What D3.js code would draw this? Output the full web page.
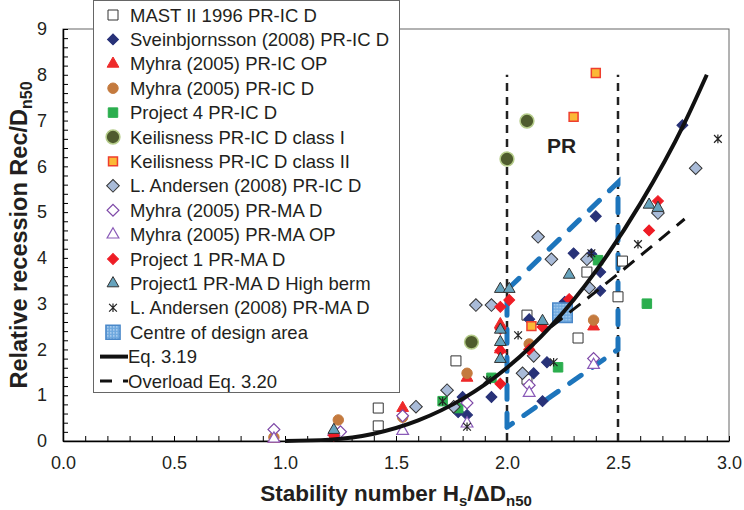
<!DOCTYPE html>
<html>
<head>
<meta charset="utf-8">
<script src="https://cdn.jsdelivr.net/npm/d3@7"></script>
<style>
  body { margin: 0; background: #fff; }
  text { font-family: "Liberation Sans", Arial, sans-serif; fill: #231f20; }
</style>
</head>
<body>
<div id="chart"></div>
<script>
// DATA
const mastX = [1.42, 1.42, 1.77, 2.09, 2.09, 2.32, 2.36, 2.52, 2.50];
const mastY = [0.72, 0.33, 1.75, 2.75, 1.35, 2.25, 3.69, 3.93, 3.15];

const sveinX = [1.80, 1.78, 1.82, 1.93, 2.10, 2.18, 2.12, 2.16, 2.79, 2.40, 2.30, 2.38, 2.42, 2.42, 2.26];
const sveinY = [0.96, 0.63, 0.57, 0.96, 2.66, 1.72, 1.48, 0.87, 6.90, 4.91, 4.10, 4.08, 3.69, 3.28, 3.04];

const myhraOpX = [0.95, 1.22, 1.53, 1.82, 1.97, 1.97, 2.39];
const myhraOpY = [0.05, 0.20, 0.72, 1.38, 2.55, 2.00, 2.50];

const myhraDX = [0.95, 1.24, 1.53, 1.82, 2.10, 2.39];
const myhraDY = [0.08, 0.46, 0.52, 1.48, 2.12, 2.64];

const proj4X = [1.71, 1.78, 1.93, 2.23, 2.41, 2.63];
const proj4Y = [0.87, 0.72, 1.38, 1.61, 3.95, 3.00];

const keil1X = [2.00, 2.09, 1.84];
const keil1Y = [6.16, 6.99, 2.16];

const keil2X = [2.30, 2.40, 2.11];
const keil2Y = [7.08, 8.04, 2.51];

const andIcX = [2.14, 2.20, 1.86, 1.93, 2.12, 2.07, 1.73, 1.59, 1.76, 2.85, 2.68, 2.36, 2.37];
const andIcY = [4.46, 3.97, 2.97, 2.97, 1.86, 1.48, 1.11, 0.75, 0.75, 5.96, 4.98, 3.97, 3.35];

const myhraMaDX = [0.95, 1.25, 1.53, 1.82, 2.10, 2.39];
const myhraMaDY = [0.25, 0.20, 0.55, 0.83, 1.22, 1.80];

const myhraMaOpX = [0.95, 1.22, 1.53, 1.82, 2.10, 2.39];
const myhraMaOpY = [0.05, 0.20, 0.22, 0.38, 1.05, 1.66];

const proj1X = [1.97, 2.01, 1.97, 1.97, 1.97, 2.10, 2.16, 2.68, 2.64, 2.28, 1.22];
const proj1Y = [2.93, 3.08, 2.45, 1.97, 1.25, 2.00, 2.49, 5.24, 4.60, 3.10, 0.12];

const highBermX = [1.97, 2.01, 1.97, 1.97, 1.97, 2.16, 2.28, 2.64, 2.68, 1.22];
const highBermY = [3.32, 3.32, 2.43, 2.16, 1.79, 2.62, 3.63, 5.16, 5.09, 0.24];

const andMaX = [2.05, 2.21, 1.71, 1.91, 1.82, 2.95, 2.59, 2.38];
const andMaY = [2.31, 1.72, 0.87, 1.33, 0.31, 6.60, 4.30, 4.10];

const centreX = [2.25];
const centreY = [2.80];

// Eq. 3.19 and overload Eq. 3.20
const eq319X = [1.0, 1.2, 1.4, 1.6, 1.8, 2.0, 2.2, 2.4, 2.6, 2.8, 2.9];
const eq319Y = [0.0, 0.03, 0.16, 0.45, 0.92, 1.6, 2.52, 3.71, 5.18, 6.95, 8.0];
const eq320X = [2.2, 2.5, 2.8];
const eq320Y = [2.5, 3.65, 4.85];

// PR design area (blue dashed) and the PR limits (black dashed)
const designX = [2.0, 2.0, 2.5, 2.5, 2.0];
const designY = [0.3, 3.3, 5.65, 2.0, 0.3];
const limitX = [2.0, 2.5];
const limitY = [0, 8];

const X_TICKS = [0.0, 0.5, 1.0, 1.5, 2.0, 2.5, 3.0];
const Y_TICKS = [0, 1, 2, 3, 4, 5, 6, 7, 8, 9];

const MARGIN = { top: 29, right: 15, bottom: 69, left: 63 };
const WIDTH = 744 - MARGIN.left - MARGIN.right;
const HEIGHT = 510 - MARGIN.top - MARGIN.bottom;

// custom asterisk symbol (x with a vertical bar)
const symbolStar = {
    draw(ctx, size) {
        const r = Math.sqrt(size) / 2;
        ctx.moveTo(-r, -r); ctx.lineTo(r, r);
        ctx.moveTo(-r, r); ctx.lineTo(r, -r);
        ctx.moveTo(0, -r * 1.1); ctx.lineTo(0, r * 1.1);
    }
};

const zip = (xs, ys) => xs.map((v, i) => ({ x: v, y: ys[i] }));

const SERIES = [
    { name: "MAST II 1996 PR-IC D", pts: zip(mastX, mastY), type: d3.symbolSquare, size: 100, fill: "#fff", stroke: "#333", sw: 1 },
    { name: "Sveinbjornsson (2008) PR-IC D", pts: zip(sveinX, sveinY), type: d3.symbolSquare, size: 60, rot: 45, fill: "#283278", stroke: "#283278", sw: 1 },
    { name: "Myhra (2005) PR-IC OP", pts: zip(myhraOpX, myhraOpY), type: d3.symbolTriangle, size: 60, fill: "#ee2a2a", stroke: "#ee2a2a", sw: 1 },
    { name: "Myhra (2005) PR-IC D", pts: zip(myhraDX, myhraDY), type: d3.symbolCircle, size: 85, fill: "#c47a3e", stroke: "#c47a3e", sw: 1 },
    { name: "Project 4 PR-IC D", pts: zip(proj4X, proj4Y), type: d3.symbolSquare, size: 90, fill: "#2bae4e", stroke: "#2bae4e", sw: 1 },
    { name: "Keilisness PR-IC D class I", pts: zip(keil1X, keil1Y), type: d3.symbolCircle, size: 150, fill: "#4f5c2e", stroke: "#b5cc8a", sw: 1.5 },
    { name: "Keilisness PR-IC D class II", pts: zip(keil2X, keil2Y), type: d3.symbolSquare, size: 80, fill: "#fbb936", stroke: "#ee3e2e", sw: 1.5 },
    { name: "L. Andersen (2008) PR-IC D", pts: zip(andIcX, andIcY), type: d3.symbolSquare, size: 80, rot: 45, fill: "#a9bbd8", stroke: "#333", sw: 1 },
    { name: "Myhra (2005) PR-MA D", pts: zip(myhraMaDX, myhraMaDY), type: d3.symbolSquare, size: 70, rot: 45, fill: "#fff", stroke: "#7f4aa8", sw: 1.2 },
    { name: "Myhra (2005) PR-MA OP", pts: zip(myhraMaOpX, myhraMaOpY), type: d3.symbolTriangle, size: 60, fill: "#fff", stroke: "#8a5ab8", sw: 1.2 },
    { name: "Project 1 PR-MA D", pts: zip(proj1X, proj1Y), type: d3.symbolSquare, size: 60, rot: 45, fill: "#ee1c25", stroke: "#ee1c25", sw: 1 },
    { name: "Project1 PR-MA D High berm", pts: zip(highBermX, highBermY), type: d3.symbolTriangle, size: 60, fill: "#66a3bd", stroke: "#333", sw: 1 },
    { name: "L. Andersen (2008) PR-MA D", pts: zip(andMaX, andMaY), type: symbolStar, size: 60, fill: "none", stroke: "#222", sw: 1.2 },
    { name: "Centre of design area", pts: zip(centreX, centreY), type: d3.symbolSquare, size: 380, fill: "url(#hatch)", stroke: "#4a88c9", sw: 1.5 }
];

const svg = d3.select("#chart")
    .append("svg")
        .attr("width", WIDTH + MARGIN.left + MARGIN.right)
        .attr("height", HEIGHT + MARGIN.top + MARGIN.bottom);

// pattern for the centre marker
const pat = svg.append("defs").append("pattern")
    .attr("id", "hatch")
    .attr("width", 3).attr("height", 3)
    .attr("patternUnits", "userSpaceOnUse");
pat.append("rect").attr("width", 3).attr("height", 3).attr("fill", "#6ea8de");
pat.append("rect").attr("width", 1.5).attr("height", 1.5).attr("fill", "#b3d3f2");

const g = svg.append("g")
    .attr("transform", `translate(${MARGIN.left}, ${MARGIN.top})`);

const x = d3.scaleLinear().domain([0, 3]).range([0, WIDTH]);
const y = d3.scaleLinear().domain([0, 9]).range([HEIGHT, 0]);

// FRAME
g.append("rect")
    .attr("width", WIDTH)
    .attr("height", HEIGHT)
    .attr("fill", "none")
    .attr("stroke", "#666")
    .attr("stroke-width", 1);

// AXES
const xAxis = g.append("g")
    .attr("transform", `translate(0, ${HEIGHT})`)
    .call(d3.axisBottom(x)
        .tickValues(d3.range(0, 31).map(i => i / 10))
        .tickSize(-5)
        .tickSizeOuter(0)
        .tickPadding(15)
        .tickFormat(d => X_TICKS.some(t => Math.abs(t - d) < 1e-6) ? d3.format(".1f")(d) : ""));
xAxis.selectAll("text").style("font-size", "18px").attr("font-family", null);
xAxis.select(".domain").attr("stroke", "#000").attr("stroke-width", 1.5);

const yAxis = g.append("g")
    .call(d3.axisLeft(y)
        .tickValues(d3.range(0, 46).map(i => i / 5))
        .tickSize(-5)
        .tickSizeOuter(0)
        .tickPadding(16)
        .tickFormat(d => Y_TICKS.some(t => Math.abs(t - d) < 1e-6) ? d3.format("d")(d) : ""));
yAxis.selectAll("text").style("font-size", "18px").attr("font-family", null);
yAxis.select(".domain").attr("stroke", "#000").attr("stroke-width", 1.5);

// AXIS TITLES
const xTitle = g.append("text")
    .attr("x", WIDTH / 2)
    .attr("y", HEIGHT + 60)
    .attr("text-anchor", "middle")
    .style("font-size", "22.5px")
    .style("font-weight", "bold");
xTitle.append("tspan").text("Stability number H");
xTitle.append("tspan").attr("dy", 5).style("font-size", "15px").text("s");
xTitle.append("tspan").attr("dy", -5).text("/\u0394D");
xTitle.append("tspan").attr("dy", 5).style("font-size", "15px").text("n50");

const yTitle = g.append("text")
    .attr("transform", `translate(${27 - MARGIN.left}, ${HEIGHT / 2}) rotate(-90)`)
    .attr("text-anchor", "middle")
    .style("font-size", "23.5px")
    .style("font-weight", "bold");
yTitle.append("tspan").text("Relative recession Rec/D");
yTitle.append("tspan").attr("dy", 5).style("font-size", "16px").text("n50");

// PR LIMITS
limitX.forEach(v => {
    g.append("line")
        .attr("x1", x(v)).attr("x2", x(v))
        .attr("y1", y(limitY[0])).attr("y2", y(limitY[1]))
        .attr("stroke", "#222")
        .attr("stroke-width", 2.5)
        .attr("stroke-dasharray", "8,6");
});

// DESIGN AREA
g.append("path")
    .datum(zip(designX, designY))
    .attr("d", d3.line().x(d => x(d.x)).y(d => y(d.y)))
    .attr("fill", "none")
    .attr("stroke", "#1d75bc")
    .attr("stroke-width", 5)
    .attr("stroke-linecap", "round")
    .attr("stroke-dasharray", "14,14");

g.append("text")
    .attr("x", x(2.18))
    .attr("y", y(6.3))
    .style("font-size", "21px")
    .style("font-weight", "bold")
    .text("PR");

// POINTS
SERIES.forEach(s => {
    g.selectAll(null)
        .data(s.pts)
        .enter()
        .append("path")
        .attr("transform", d => `translate(${x(d.x)}, ${y(d.y)})` + (s.rot ? ` rotate(${s.rot})` : ""))
        .attr("d", d3.symbol().type(s.type).size(s.size))
        .attr("fill", s.fill)
        .attr("stroke", s.stroke)
        .attr("stroke-width", s.sw);
});

// EQUATION CURVES
g.append("path")
    .datum(zip(eq319X, eq319Y))
    .attr("d", d3.line().x(d => x(d.x)).y(d => y(d.y)).curve(d3.curveMonotoneX))
    .attr("fill", "none")
    .attr("stroke", "#111")
    .attr("stroke-width", 4);

g.append("path")
    .datum(zip(eq320X, eq320Y))
    .attr("d", d3.line().x(d => x(d.x)).y(d => y(d.y)).curve(d3.curveMonotoneX))
    .attr("fill", "none")
    .attr("stroke", "#111")
    .attr("stroke-width", 3)
    .attr("stroke-dasharray", "14,9");

// LEGEND
const legend = svg.append("g");
legend.append("rect")
    .attr("x", 93.5).attr("y", 0.5)
    .attr("width", 306).attr("height", 392)
    .attr("fill", "#fff")
    .attr("stroke", "#666");

const ROW0 = 15, ROW = 24.4;
SERIES.forEach((s, i) => {
    const cy = ROW0 + i * ROW;
    legend.append("path")
        .attr("transform", `translate(113, ${cy})` + (s.rot ? ` rotate(${s.rot})` : ""))
        .attr("d", d3.symbol().type(s.type).size(s === SERIES[13] ? 200 : s.size))
        .attr("fill", s.fill)
        .attr("stroke", s.stroke)
        .attr("stroke-width", s.sw);
    legend.append("text")
        .attr("x", 130).attr("y", cy + 6.6)
        .style("font-size", "18.5px")
        .text(s.name);
});
const eqRow = ROW0 + SERIES.length * ROW;
legend.append("line")
    .attr("x1", 100).attr("x2", 128)
    .attr("y1", eqRow).attr("y2", eqRow)
    .attr("stroke", "#111").attr("stroke-width", 4);
legend.append("text")
    .attr("x", 128).attr("y", eqRow + 6.6)
    .style("font-size", "18.5px")
    .text("Eq. 3.19");
legend.append("line")
    .attr("x1", 100).attr("x2", 128)
    .attr("y1", eqRow + ROW).attr("y2", eqRow + ROW)
    .attr("stroke", "#111").attr("stroke-width", 3)
    .attr("stroke-dasharray", "12,11");
legend.append("text")
    .attr("x", 128).attr("y", eqRow + ROW + 6.6)
    .style("font-size", "18.5px")
    .text("Overload Eq. 3.20");
</script>
</body>
</html>
